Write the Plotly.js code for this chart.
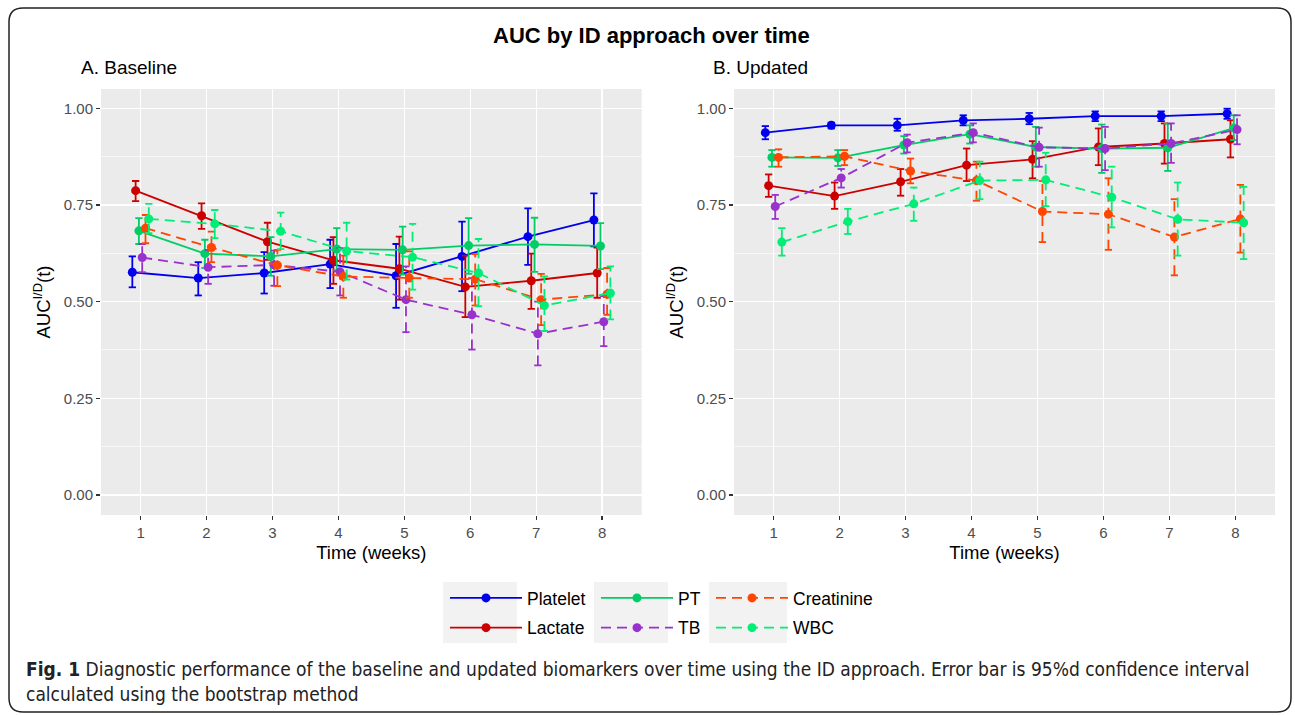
<!DOCTYPE html>
<html>
<head>
<meta charset="utf-8">
<script src="https://cdn.plot.ly/plotly-3.0.1.min.js"></script>
<style>html,body{margin:0;padding:0;background:#fff;}#chart{width:1295px;height:715px;}</style>
</head>
<body>
<div id="chart"></div>
<script>
// ---------- data ----------
const weeks = [1, 2, 3, 4, 5, 6, 7, 8];
const seriesNames = ["Platelet", "Lactate", "PT", "TB", "Creatinine", "WBC"];

// Baseline panel
const basePlatelet    = [0.576, 0.561, 0.574, 0.597, 0.567, 0.617, 0.668, 0.711];
const basePlateletLo  = [0.537, 0.516, 0.521, 0.535, 0.484, 0.527, 0.595, 0.643];
const basePlateletHi  = [0.617, 0.602, 0.628, 0.660, 0.649, 0.707, 0.741, 0.780];
const baseLactate     = [0.787, 0.722, 0.655, 0.607, 0.585, 0.538, 0.554, 0.574];
const baseLactateLo   = [0.760, 0.688, 0.608, 0.546, 0.505, 0.460, 0.481, 0.510];
const baseLactateHi   = [0.812, 0.754, 0.704, 0.667, 0.668, 0.619, 0.624, 0.640];
const basePT          = [0.683, 0.624, 0.617, 0.636, 0.634, 0.645, 0.648, 0.644];
const basePTLo        = [0.649, 0.587, 0.567, 0.581, 0.570, 0.572, 0.577, 0.584];
const basePTHi        = [0.716, 0.660, 0.667, 0.690, 0.694, 0.716, 0.717, 0.703];
const baseTB          = [0.614, 0.589, 0.595, 0.577, 0.505, 0.466, 0.417, 0.448];
const baseTBLo        = [0.576, 0.546, 0.541, 0.516, 0.421, 0.376, 0.335, 0.385];
const baseTBHi        = [0.649, 0.634, 0.632, 0.638, 0.591, 0.561, 0.500, 0.514];
const baseCreatinine   = [0.690, 0.640, 0.594, 0.565, 0.561, 0.558, 0.505, 0.519];
const baseCreatinineLo = [0.651, 0.602, 0.540, 0.510, 0.510, 0.490, 0.439, 0.466];
const baseCreatinineHi = [0.724, 0.681, 0.634, 0.619, 0.630, 0.623, 0.572, 0.587];
const baseWBC         = [0.714, 0.701, 0.682, 0.631, 0.615, 0.574, 0.490, 0.522];
const baseWBCLo       = [0.677, 0.664, 0.636, 0.557, 0.531, 0.488, 0.424, 0.454];
const baseWBCHi       = [0.753, 0.737, 0.730, 0.704, 0.701, 0.662, 0.565, 0.591];

// Updated panel
const updPlatelet    = [0.937, 0.956, 0.956, 0.969, 0.973, 0.980, 0.980, 0.986];
const updPlateletLo  = [0.920, 0.948, 0.942, 0.956, 0.959, 0.967, 0.967, 0.973];
const updPlateletHi  = [0.954, 0.963, 0.973, 0.982, 0.988, 0.992, 0.992, 0.999];
const updLactate     = [0.800, 0.773, 0.810, 0.853, 0.868, 0.900, 0.909, 0.920];
const updLactateLo   = [0.771, 0.740, 0.774, 0.812, 0.819, 0.853, 0.857, 0.873];
const updLactateHi   = [0.829, 0.808, 0.843, 0.896, 0.915, 0.948, 0.961, 0.969];
const updPT          = [0.873, 0.872, 0.905, 0.933, 0.900, 0.896, 0.898, 0.949];
const updPTLo        = [0.849, 0.851, 0.883, 0.909, 0.849, 0.833, 0.838, 0.918];
const updPTHi        = [0.892, 0.892, 0.928, 0.956, 0.952, 0.958, 0.960, 0.982];
const updTB          = [0.746, 0.820, 0.911, 0.937, 0.899, 0.896, 0.909, 0.945];
const updTBLo        = [0.714, 0.795, 0.886, 0.912, 0.849, 0.840, 0.859, 0.907];
const updTBHi        = [0.776, 0.843, 0.932, 0.961, 0.950, 0.952, 0.961, 0.982];
const updCreatinine   = [0.873, 0.876, 0.838, 0.813, 0.733, 0.726, 0.667, 0.714];
const updCreatinineLo = [0.849, 0.853, 0.806, 0.761, 0.654, 0.634, 0.568, 0.627];
const updCreatinineHi = [0.894, 0.892, 0.870, 0.862, 0.812, 0.819, 0.765, 0.802];
const updWBC         = [0.654, 0.707, 0.753, 0.813, 0.815, 0.770, 0.713, 0.704];
const updWBCLo       = [0.619, 0.675, 0.709, 0.765, 0.747, 0.692, 0.619, 0.610];
const updWBCHi       = [0.690, 0.740, 0.795, 0.862, 0.885, 0.849, 0.808, 0.797];

const yTickVals = [0, 0.25, 0.5, 0.75, 1];
const yTickText = ["0.00", "0.25", "0.50", "0.75", "1.00"];

// ---------- styles ----------
const colors = {Platelet: "#0000EE", Lactate: "#CD0000", PT: "#00CD66", TB: "#9932CC", Creatinine: "#FF4500", WBC: "#00EE76"};
const dashes = {Platelet: "solid", Lactate: "solid", PT: "solid", TB: "10px,6px", Creatinine: "10px,6px", WBC: "10px,6px"};
const dodge  = {Platelet: -0.125, Lactate: -0.075, PT: -0.025, TB: 0.025, Creatinine: 0.075, WBC: 0.125};
const legendOf = {Platelet: "legend", Lactate: "legend", PT: "legend2", TB: "legend2", Creatinine: "legend3", WBC: "legend3"};
const capHalf = 0.055;

const panels = [
  {xa: "x", ya: "y", show: true, data: {
    Platelet: [basePlatelet, basePlateletLo, basePlateletHi],
    Lactate: [baseLactate, baseLactateLo, baseLactateHi],
    PT: [basePT, basePTLo, basePTHi],
    TB: [baseTB, baseTBLo, baseTBHi],
    Creatinine: [baseCreatinine, baseCreatinineLo, baseCreatinineHi],
    WBC: [baseWBC, baseWBCLo, baseWBCHi]}},
  {xa: "x2", ya: "y2", show: false, data: {
    Platelet: [updPlatelet, updPlateletLo, updPlateletHi],
    Lactate: [updLactate, updLactateLo, updLactateHi],
    PT: [updPT, updPTLo, updPTHi],
    TB: [updTB, updTBLo, updTBHi],
    Creatinine: [updCreatinine, updCreatinineLo, updCreatinineHi],
    WBC: [updWBC, updWBCLo, updWBCHi]}}
];

const traces = [];
panels.forEach(p => {
  seriesNames.forEach(name => {
    const [v, lo, hi] = p.data[name];
    const xs = weeks.map(w => w + dodge[name]);
    // error bars (drawn as segments so they can carry the series' dash style)
    const ex = [], ey = [];
    xs.forEach((x, i) => {
      ex.push(x - capHalf, x + capHalf, null, x, x, null, x - capHalf, x + capHalf, null);
      ey.push(lo[i], lo[i], null, lo[i], hi[i], null, hi[i], hi[i], null);
    });
    traces.push({
      type: "scatter", mode: "lines", x: ex, y: ey, xaxis: p.xa, yaxis: p.ya,
      line: {color: colors[name], width: 1.8, dash: dashes[name]},
      showlegend: false, hoverinfo: "skip", connectgaps: false
    });
    traces.push({
      type: "scatter", mode: "lines+markers", name: name, x: xs, y: v,
      xaxis: p.xa, yaxis: p.ya,
      line: {color: colors[name], width: 1.8, dash: dashes[name]},
      marker: {color: colors[name], size: 9},
      showlegend: p.show, legend: legendOf[name], legendgroup: name
    });
  });
});

// ---------- layout ----------
const W = 1295, H = 715;
const px = v => v / W, py = v => 1 - v / H;

const axisCommon = {
  range: [0.4, 8.6], tickvals: weeks, ticktext: weeks.map(String),
  ticks: "outside", ticklen: 4, tickwidth: 1.3, tickcolor: "#333333",
  showgrid: true, gridcolor: "#FFFFFF", gridwidth: 1.3, zeroline: false, showline: false,
  tickfont: {family: "Liberation Sans, Arial, sans-serif", size: 15, color: "#4D4D4D"},
  title: {text: "Time (weeks)", font: {family: "Liberation Sans, Arial, sans-serif", size: 18.5, color: "#000"}, standoff: 6},
  fixedrange: true
};
const yCommon = {
  range: [-0.052, 1.05], tickvals: yTickVals, ticktext: yTickText,
  ticks: "outside", ticklen: 4, tickwidth: 1.3, tickcolor: "#333333",
  showgrid: true, gridcolor: "#FFFFFF", gridwidth: 1.3, zeroline: false, showline: false,
  minor: {tick0: 0.125, dtick: 0.25, showgrid: true, gridcolor: "#FFFFFF", gridwidth: 0.6, ticks: ""},
  tickfont: {family: "Liberation Sans, Arial, sans-serif", size: 15, color: "#4D4D4D"},
  title: {text: "AUC<sup>I/D</sup>(t)", font: {family: "Liberation Sans, Arial, sans-serif", size: 18.5, color: "#000"}, standoff: 8},
  fixedrange: true
};

const legendCommon = {
  orientation: "v", bgcolor: "rgba(0,0,0,0)", borderwidth: 0,
  font: {family: "Liberation Sans, Arial, sans-serif", size: 17.5, color: "#000"},
  yanchor: "top", xanchor: "left", y: py(580), tracegroupgap: 4, itemwidth: 72
};

const r = 14;
const fx0 = px(9), fx1 = px(1291), fy0 = py(8), fy1 = py(712);
const rx = r / W, ry = r / H;
const framePath = `M ${fx0 + rx},${fy0} L ${fx1 - rx},${fy0} Q ${fx1},${fy0} ${fx1},${fy0 - ry} L ${fx1},${fy1 + ry} Q ${fx1},${fy1} ${fx1 - rx},${fy1} L ${fx0 + rx},${fy1} Q ${fx0},${fy1} ${fx0},${fy1 + ry} L ${fx0},${fy0 - ry} Q ${fx0},${fy0} ${fx0 + rx},${fy0} Z`;

const keyBoxes = [[443, 517], [594, 668], [709, 787]].map(([a, b]) => ({
  type: "rect", xref: "paper", yref: "paper", x0: px(a), x1: px(b), y0: py(582), y1: py(643),
  fillcolor: "#F2F2F2", line: {width: 0}, layer: "below"
}));

const layout = {
  width: W, height: H,
  margin: {l: 0, r: 0, t: 0, b: 0},
  paper_bgcolor: "#FFFFFF",
  plot_bgcolor: "#EBEBEB",
  showlegend: true,
  xaxis: Object.assign({}, axisCommon, {domain: [px(101), px(641.7)], anchor: "y"}),
  yaxis: Object.assign({}, yCommon, {domain: [py(515), py(89)], anchor: "x"}),
  xaxis2: Object.assign({}, axisCommon, {domain: [px(734), px(1275)], anchor: "y2"}),
  yaxis2: Object.assign({}, yCommon, {domain: [py(515), py(89)], anchor: "x2"}),
  legend: Object.assign({}, legendCommon, {x: px(445)}),
  legend2: Object.assign({}, legendCommon, {x: px(596)}),
  legend3: Object.assign({}, legendCommon, {x: px(711)}),
  shapes: [{type: "path", xref: "paper", yref: "paper", path: framePath, line: {color: "#222", width: 1.5}, layer: "below"}].concat(keyBoxes),
  annotations: [
    {text: "<b>AUC by ID approach over time</b>", xref: "paper", yref: "paper", x: px(651), y: py(36), xanchor: "center", yanchor: "middle", showarrow: false,
     font: {family: "Liberation Sans, Arial, sans-serif", size: 22, color: "#000"}},
    {text: "A. Baseline", xref: "paper", yref: "paper", x: px(79), y: py(68), xanchor: "left", yanchor: "middle", showarrow: false,
     font: {family: "Liberation Sans, Arial, sans-serif", size: 19, color: "#000"}},
    {text: "B. Updated", xref: "paper", yref: "paper", x: px(711), y: py(68), xanchor: "left", yanchor: "middle", showarrow: false,
     font: {family: "Liberation Sans, Arial, sans-serif", size: 19, color: "#000"}},
    {text: "<b>Fig. 1</b> Diagnostic performance of the baseline and updated biomarkers over time using the ID approach. Error bar is 95%d confidence interval<br>calculated using the bootstrap method",
     xref: "paper", yref: "paper", x: px(24), y: py(656), xanchor: "left", yanchor: "top", align: "left", showarrow: false,
     font: {family: "Liberation Sans Narrow, DejaVu Sans Condensed, sans-serif", size: 19, color: "#222"}}
  ]
};

Plotly.newPlot("chart", traces, layout, {displayModeBar: false, staticPlot: true});
</script>
</body>
</html>
